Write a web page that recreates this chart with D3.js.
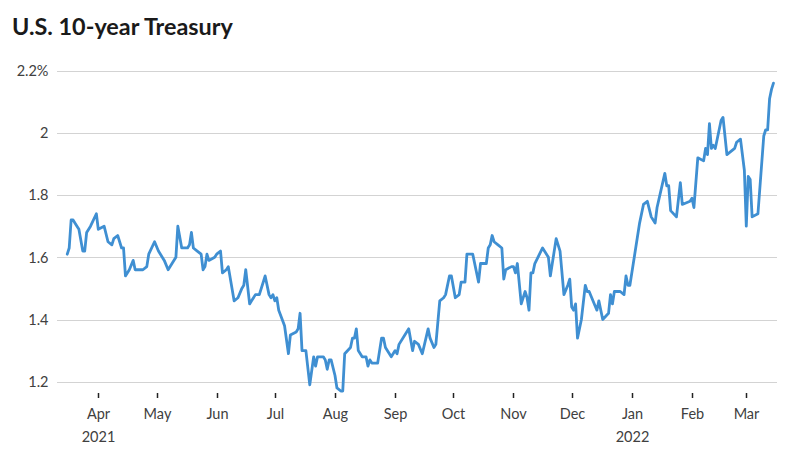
<!DOCTYPE html>
<html>
<head>
<meta charset="utf-8">
<script src="https://cdn.jsdelivr.net/npm/d3@7"></script>
<style>
  html, body { margin: 0; padding: 0; background: #fff; }
  svg { display: block; }
</style>
</head>
<body>
<svg id="chart" width="800" height="464"></svg>
<script>
const title = "U.S. 10-year Treasury";

const dates = [
"2021-03-16","2021-03-17","2021-03-18","2021-03-19","2021-03-21","2021-03-22","2021-03-24","2021-03-25","2021-03-26","2021-03-28",
"2021-03-31","2021-04-01","2021-04-04","2021-04-06","2021-04-08","2021-04-09","2021-04-11","2021-04-13","2021-04-14","2021-04-15",
"2021-04-17","2021-04-19","2021-04-20","2021-04-22","2021-04-24","2021-04-26","2021-04-27","2021-04-30","2021-05-02","2021-05-05",
"2021-05-07","2021-05-09","2021-05-11","2021-05-12","2021-05-14","2021-05-17","2021-05-18","2021-05-19","2021-05-20","2021-05-22",
"2021-05-24","2021-05-25","2021-05-26","2021-05-27","2021-05-28","2021-05-31","2021-06-01","2021-06-03","2021-06-04","2021-06-06",
"2021-06-07","2021-06-10","2021-06-12","2021-06-14","2021-06-15","2021-06-16","2021-06-18","2021-06-19","2021-06-21","2021-06-23",
"2021-06-26","2021-06-28","2021-06-29","2021-06-30","2021-07-01","2021-07-02","2021-07-03","2021-07-06","2021-07-08","2021-07-09",
"2021-07-12","2021-07-13","2021-07-14","2021-07-15","2021-07-17","2021-07-19","2021-07-21","2021-07-22","2021-07-23","2021-07-26",
"2021-07-27","2021-07-28","2021-07-29","2021-07-30","2021-08-01","2021-08-02","2021-08-04","2021-08-05","2021-08-06","2021-08-09",
"2021-08-10","2021-08-11","2021-08-12","2021-08-13","2021-08-15","2021-08-17","2021-08-18","2021-08-19","2021-08-20","2021-08-23",
"2021-08-25","2021-08-26","2021-08-27","2021-08-30","2021-09-01","2021-09-02","2021-09-03","2021-09-06","2021-09-08","2021-09-10",
"2021-09-11","2021-09-13","2021-09-15","2021-09-18","2021-09-19","2021-09-21","2021-09-22","2021-09-24","2021-09-26","2021-09-27",
"2021-09-29","2021-09-30","2021-10-02","2021-10-04","2021-10-05","2021-10-07","2021-10-08","2021-10-11","2021-10-14","2021-10-15",
"2021-10-18","2021-10-19","2021-10-20","2021-10-21","2021-10-22","2021-10-24","2021-10-26","2021-10-27","2021-10-28","2021-10-31",
"2021-11-01","2021-11-02","2021-11-03","2021-11-05","2021-11-07","2021-11-08","2021-11-09","2021-11-10","2021-11-11","2021-11-12",
"2021-11-16","2021-11-19","2021-11-20","2021-11-23","2021-11-25","2021-11-27","2021-11-29","2021-11-30","2021-12-01","2021-12-02",
"2021-12-03","2021-12-04","2021-12-06","2021-12-08","2021-12-09","2021-12-10","2021-12-14","2021-12-15","2021-12-17","2021-12-20",
"2021-12-21","2021-12-22","2021-12-23","2021-12-26","2021-12-28","2021-12-29","2021-12-30","2021-12-31","2022-01-05","2022-01-07",
"2022-01-09","2022-01-11","2022-01-13","2022-01-14","2022-01-18","2022-01-19","2022-01-20","2022-01-21","2022-01-24","2022-01-26",
"2022-01-27","2022-01-31","2022-02-01","2022-02-02","2022-02-04","2022-02-07","2022-02-08","2022-02-09","2022-02-10","2022-02-11",
"2022-02-12","2022-02-13","2022-02-16","2022-02-17","2022-02-19","2022-02-23","2022-02-24","2022-02-26","2022-02-28","2022-03-01",
"2022-03-02","2022-03-03","2022-03-04","2022-03-07","2022-03-10","2022-03-11","2022-03-12","2022-03-13","2022-03-14","2022-03-15"
];

const yields = [
1.61,1.63,1.72,1.72,1.70,1.69,1.62,1.62,1.68,1.70,
1.74,1.69,1.70,1.65,1.64,1.66,1.67,1.63,1.63,1.54,
1.56,1.59,1.56,1.56,1.56,1.57,1.61,1.65,1.62,1.59,
1.56,1.58,1.60,1.70,1.63,1.63,1.64,1.68,1.63,1.62,
1.61,1.56,1.57,1.61,1.59,1.60,1.61,1.62,1.55,1.56,
1.57,1.46,1.47,1.50,1.51,1.56,1.45,1.46,1.48,1.48,
1.54,1.48,1.47,1.48,1.46,1.47,1.43,1.38,1.29,1.35,
1.36,1.37,1.42,1.30,1.30,1.19,1.28,1.25,1.28,1.28,
1.27,1.24,1.27,1.27,1.22,1.18,1.17,1.17,1.29,1.31,
1.34,1.34,1.37,1.30,1.28,1.28,1.25,1.27,1.26,1.26,
1.34,1.34,1.31,1.28,1.30,1.29,1.32,1.35,1.37,1.30,
1.33,1.32,1.29,1.37,1.34,1.31,1.32,1.46,1.47,1.48,
1.54,1.54,1.47,1.48,1.52,1.52,1.61,1.61,1.52,1.58,
1.58,1.63,1.64,1.67,1.65,1.64,1.63,1.53,1.56,1.57,
1.57,1.55,1.58,1.45,1.49,1.47,1.43,1.55,1.55,1.58,
1.63,1.60,1.54,1.66,1.62,1.48,1.51,1.53,1.44,1.43,
1.45,1.34,1.40,1.51,1.49,1.49,1.43,1.46,1.40,1.42,
1.48,1.45,1.49,1.49,1.48,1.54,1.51,1.51,1.71,1.77,
1.78,1.73,1.71,1.76,1.87,1.83,1.83,1.75,1.73,1.84,
1.77,1.78,1.79,1.76,1.92,1.91,1.95,1.93,2.03,1.95,
1.96,1.95,2.04,2.05,1.93,1.95,1.97,1.98,1.88,1.70,
1.86,1.85,1.73,1.74,1.99,2.01,2.01,2.11,2.14,2.16
];

const yTicks = [1.2, 1.4, 1.6, 1.8, 2.0, 2.2];
const yTickLabels = ["1.2", "1.4", "1.6", "1.8", "2", "2.2%"];
const monthTicks = ["2021-04-01","2021-05-01","2021-06-01","2021-07-01","2021-08-01","2021-09-01","2021-10-01","2021-11-01","2021-12-01","2022-01-01","2022-02-01","2022-03-01"];
const monthLabels = ["Apr","May","Jun","Jul","Aug","Sep","Oct","Nov","Dec","Jan","Feb","Mar"];
const yearLabels = ["2021","","","","","","","","","2022","",""];

const parse = d3.utcParse("%Y-%m-%d");
const data = dates.map((d, i) => ({ date: parse(d), value: yields[i] }));

const svg = d3.select("#chart");
const font = "Lato, 'Open Sans', 'DejaVu Sans', sans-serif";

const x = d3.scaleUtc()
  .domain([parse("2021-04-01"), parse("2022-03-01")])
  .range([98.3, 746.3]);
const y = d3.scaleLinear()
  .domain([1.2, 2.2])
  .range([381.7, 70.7]);

const gridLeft = 57, gridRight = 777;

// Title
const t = svg.append("text")
  .attr("x", 12).attr("y", 34.5)
  .attr("font-family", font)
  .attr("font-weight", 700)
  .attr("font-size", 19)
  .attr("fill", "#1a1a1a")
  .text(title);
const tw = t.node().getComputedTextLength();
if (tw > 0) t.attr("font-size", 19 * 221 / tw);

// Grid lines
svg.append("g").selectAll("line")
  .data(yTicks).join("line")
  .attr("x1", gridLeft).attr("x2", gridRight)
  .attr("y1", d => Math.round(y(d)) + 0.5)
  .attr("y2", d => Math.round(y(d)) + 0.5)
  .attr("stroke", "#d3d3d3").attr("stroke-width", 1);

// Y labels
svg.append("g").selectAll("text")
  .data(yTicks).join("text")
  .attr("x", 48.5)
  .attr("y", d => y(d) + 5.2)
  .attr("text-anchor", "end")
  .attr("font-family", font)
  .attr("font-size", 14.5)
  .attr("fill", "#404040")
  .text((d, i) => yTickLabels[i]);

// X axis ticks and labels
const xg = svg.append("g");
monthTicks.forEach((m, i) => {
  const px = Math.round(x(parse(m))) + 0.5;
  xg.append("line")
    .attr("x1", px).attr("x2", px)
    .attr("y1", 393).attr("y2", 398)
    .attr("stroke", "#222").attr("stroke-width", 1.5);
  xg.append("text")
    .attr("x", px).attr("y", 419)
    .attr("text-anchor", "middle")
    .attr("font-family", font)
    .attr("font-size", 14.5)
    .attr("fill", "#404040")
    .text(monthLabels[i]);
  if (yearLabels[i]) {
    xg.append("text")
      .attr("x", px).attr("y", 442)
      .attr("text-anchor", "middle")
      .attr("font-family", font)
      .attr("font-size", 14.5)
      .attr("fill", "#404040")
      .text(yearLabels[i]);
  }
});

// Line
const line = d3.line()
  .x(d => x(d.date))
  .y(d => y(d.value));

svg.append("path")
  .datum(data)
  .attr("d", line)
  .attr("fill", "none")
  .attr("stroke", "#3f8fd2")
  .attr("stroke-width", 2.8)
  .attr("stroke-linejoin", "round")
  .attr("stroke-linecap", "round");
</script>
</body>
</html>
